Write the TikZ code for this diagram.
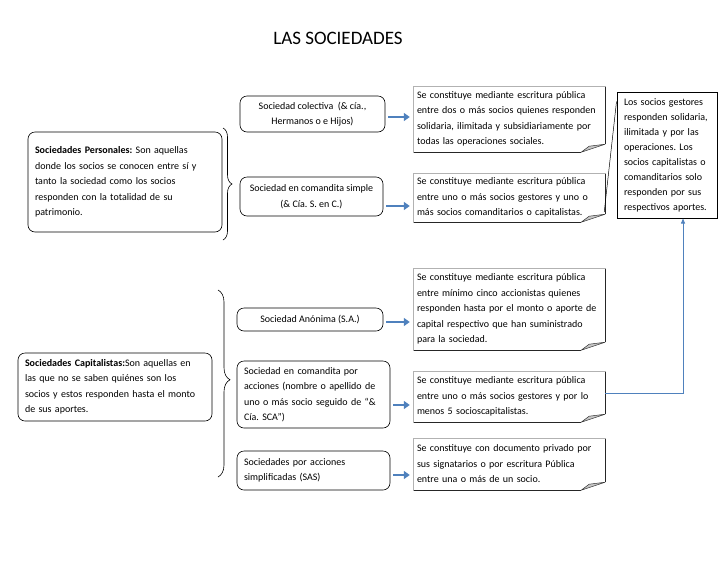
\documentclass[tikz,border=0pt]{standalone}
\usepackage{fontspec}
\setmainfont{Carlito}
\usetikzlibrary{arrows.meta,positioning,decorations.pathreplacing}
\definecolor{azul}{RGB}{79,129,189}

\begin{document}
\begin{tikzpicture}[x=1pt, y=-1pt,
    font=\fontsize{10}{15.5}\selectfont\frenchspacing,
    caja/.style={rectangle, draw, rounded corners=7pt, line width=0.6pt,
                 inner xsep=7pt, inner ysep=0pt, align=center},
    izq/.style={caja, align=left},
    nota/.style={rectangle, inner xsep=4pt, inner ysep=0pt, text width=184pt, align=left},
    flecha/.style={-{Triangle[length=6pt,width=8pt]}, line width=2.6pt, draw=azul,
                   shorten <=3pt, shorten >=3pt},
    retro/.style={-{Triangle[length=5pt,width=4pt]}, line width=0.8pt, draw=azul},
    llave/.style={decorate, line width=0.6pt}
  ]
  \useasboundingbox (0,0) rectangle (728,563);

  \node[font=\fontsize{19}{22}\selectfont] (titulo) at (338,38) {LAS SOCIEDADES};

  % tipos de sociedad
  \node[izq, text width=180pt, minimum height=100pt] (pers) at (125,182)
    {\textbf{Sociedades Personales:} Son aquellas\\donde los socios se conocen entre sí y\\tanto la sociedad como los socios\\responden con la totalidad de su\\patrimonio.};
  \node[izq, text width=180pt, minimum height=68pt] (cap) at (115,387)
    {\textbf{Sociedades Capitalistas:}Son aquellas en\\las que no se saben quiénes son los\\socios y estos responden hasta el monto\\de sus aportes.};

  % clases
  \node[caja, minimum width=145pt, minimum height=36pt] (col) at (312.5,114)
    {Sociedad colectiva~ (\& cía.,\\Hermanos o e Hijos)};
  \node[caja, minimum width=143pt, minimum height=39pt] (sim) at (311.5,196.5)
    {Sociedad en comandita simple\\(\& Cía. S. en C.)};
  \node[caja, minimum width=146pt, minimum height=23pt] (sa) at (310,319.5)
    {Sociedad Anónima (S.A.)};
  \node[izq, text width=139pt, minimum height=67pt] (cpa) at (313.5,394.5)
    {Sociedad en comandita por\\acciones (nombre o apellido de\\uno o más socio seguido de “\&\\Cía. SCA”)};
  \node[izq, text width=139pt, minimum height=39pt] (sas) at (313.5,470.5)
    {Sociedades por acciones\\simplificadas (SAS)};

  % notas
  \node[nota, minimum height=66pt] (n1) at (509,119)
    {Se constituye mediante escritura pública\\entre dos o más socios quienes responden\\solidaria, ilimitada y subsidiariamente por\\todas las operaciones sociales.};
  \node[nota, minimum height=49pt] (n2) at (509,197.5)
    {Se constituye mediante escritura pública\\entre uno o más socios gestores y uno o\\más socios comanditarios o capitalistas.};
  \node[nota, minimum height=82pt] (n3) at (509,309)
    {Se constituye mediante escritura pública\\entre mínimo cinco accionistas quienes\\responden hasta por el monto o aporte de\\capital respectivo que han suministrado\\para la sociedad.};
  \node[nota, minimum height=51pt] (n4) at (509,396.5)
    {Se constituye mediante escritura pública\\entre uno o más socios gestores y por lo\\menos 5 socioscapitalistas.};
  \node[nota, minimum height=52pt] (n5) at (509,464)
    {Se constituye con documento privado por\\sus signatarios o por escritura Pública\\entre una o más de un socio.};

  \node[draw, line width=1pt, text width=86pt, inner xsep=7pt, inner ysep=0pt, align=left,
        minimum height=126pt, font=\fontsize{10}{15}\selectfont\frenchspacing] (ges) at (667,155)
    {Los socios gestores\\responden solidaria,\\ilimitada y por las\\operaciones. Los\\socios capitalistas o\\comanditarios solo\\responden por sus\\respectivos aportes.};

  % marcos de las notas con esquina doblada
  \foreach \n in {n1,n2,n3,n4,n5} {
    \draw[gray!60, line width=0.5pt] ([xshift=-24pt]\n.south east) -- (\n.south west)
      -- (\n.north west) -- (\n.north east) -- ([yshift=8pt]\n.south east);
    \draw[black!85, line width=1pt] ([shift={(1pt,-0.5pt)}]\n.south west)
      -- ([shift={(-24pt,-0.5pt)}]\n.south east);
    \draw[black!85, line width=1pt] ([shift={(0.5pt,-1pt)}]\n.north east)
      -- ([shift={(0.5pt,8pt)}]\n.south east);
    \filldraw[fill=gray!45, draw=black!80, line width=0.5pt] ([yshift=8pt]\n.south east)
      -- ([xshift=-24pt]\n.south east) -- ([shift={(-16pt,6pt)}]\n.south east) -- cycle;
  }

  % llaves
  \draw[llave, decoration={brace, amplitude=9pt}] (223,128) -- (223,240);
  \draw[llave, decoration={brace, amplitude=12pt, aspect=0.48}] (218,290) -- (218,477);

  % flechas
  \foreach \a/\b/\y in {col/n1/117, sim/n2/206, sa/n3/322, cpa/n4/405, sas/n5/475}
    \draw[flecha] (\a.east |- 0,\y) -- (\b.west |- 0,\y);
  \draw[retro] (n4.east |- 0,393) -| ([xshift=16pt]ges.south);
  \draw[line width=0.5pt] ([yshift=-10pt]ges.north west) -- ([shift={(-1pt,10pt)}]n2.south east);
\end{tikzpicture}
\end{document}
